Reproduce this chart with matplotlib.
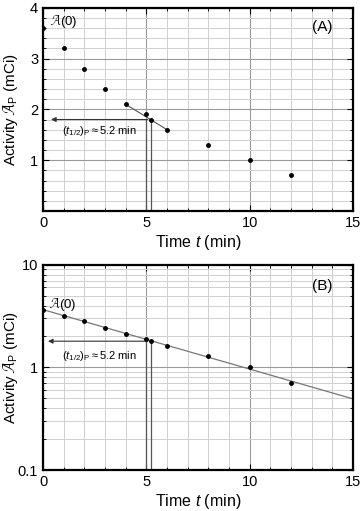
import numpy as np
import matplotlib.pyplot as plt
from matplotlib.ticker import MultipleLocator, LogLocator, NullFormatter, FixedLocator

plt.rcParams['font.family'] = ['Liberation Sans', 'DejaVu Sans']
plt.rcParams['mathtext.fontset'] = 'custom'
plt.rcParams['mathtext.rm'] = 'Liberation Sans'
plt.rcParams['mathtext.it'] = 'Liberation Sans:italic'

# measured activity
t_min = [0, 1, 2, 3, 4, 5, 6, 8, 10, 12]
activity = [3.6, 3.2, 2.8, 2.4, 2.1, 1.9, 1.6, 1.3, 1.0, 0.7]

# fit / half-life construction
A0 = 3.65
t_half = 5.2
A_half = 1.8
tangent_t = [4, 6]
tangent_A = [2.1, 1.6]

fig = plt.figure(figsize=(3.62, 5.11), dpi=100)
axA = fig.add_axes([0.119, 0.587, 0.856, 0.398])
axB = fig.add_axes([0.119, 0.080, 0.856, 0.402])


def style(ax):
    ax.set_xlim(0, 15)
    ax.xaxis.set_major_locator(MultipleLocator(5))
    ax.xaxis.set_minor_locator(MultipleLocator(1))
    ax.grid(which='major', color='#9a9a9a', lw=0.8)
    ax.grid(which='minor', color='#d0d0d0', lw=0.7)
    ax.set_axisbelow(True)
    ax.tick_params(which='both', direction='in', top=True, right=True, labelsize=10.5)
    ax.tick_params(which='major', length=4)
    ax.tick_params(which='minor', length=2.5)
    for s in ax.spines.values():
        s.set_linewidth(1.6)
    ax.set_xlabel('Time $t$ (min)', fontsize=11.5, labelpad=2)
    ax.set_ylabel(r'Activity $\mathcal{A}_\mathrm{P}$ (mCi)', fontsize=11)
    ax.yaxis.set_label_coords(-0.075, 0.5)


# ---- (A) linear
style(axA)
axA.set_ylim(0, 4)
axA.yaxis.set_major_locator(FixedLocator([1, 2, 3, 4]))
axA.yaxis.set_minor_locator(MultipleLocator(0.2))
axA.plot(t_min, activity, 'o', color='k', ms=2.5, zorder=5)
axA.plot(tangent_t, tangent_A, color='#555555', lw=0.8)
axA.plot([t_half], [A_half], 'o', color='k', ms=2.5, zorder=5)
axA.plot([5, 5], [0, A_half], color='#555555', lw=0.9)
axA.plot([t_half, t_half], [0, A_half], color='#555555', lw=0.9)
axA.annotate('', xy=(0.25, A_half), xytext=(t_half, A_half),
             arrowprops=dict(arrowstyle='-|>', color='#333333', lw=0.8, mutation_scale=7))
axA.text(0.9, 1.58, r'$(t_{1/2})_\mathrm{P}\approx 5.2$ min', fontsize=8, va='center')
axA.text(0.35, 3.72, r'$\mathcal{A}$(0)', fontsize=9.5, va='center')
axA.text(14, 3.62, '(A)', fontsize=11, ha='right', va='center')

# ---- (B) semi-log
style(axB)
axB.set_yscale('log')
axB.set_ylim(0.1, 10)
axB.yaxis.set_major_locator(FixedLocator([0.1, 1, 10]))
axB.yaxis.set_major_formatter(plt.FuncFormatter(lambda v, p: f'{v:g}'))
axB.yaxis.set_minor_locator(LogLocator(base=10, subs=np.arange(2, 10)))
axB.yaxis.set_minor_formatter(NullFormatter())
tf = np.array([0, 15])
axB.plot(tf, A0 * 0.5 ** (tf / t_half), color='#777777', lw=0.9)
axB.plot(t_min, activity, 'o', color='k', ms=2.5, zorder=5)
axB.plot([t_half], [A_half], 'o', color='k', ms=2.5, zorder=5)
axB.plot([5, 5], [0.1, A_half], color='#555555', lw=0.9)
axB.plot([t_half, t_half], [0.1, A_half], color='#555555', lw=0.9)
axB.annotate('', xy=(0.1, A_half), xytext=(t_half, A_half),
             arrowprops=dict(arrowstyle='-|>', color='#333333', lw=0.8, mutation_scale=7))
axB.text(0.9, 1.3, r'$(t_{1/2})_\mathrm{P}\approx 5.2$ min', fontsize=8, va='center')
axB.text(0.3, 4.1, r'$\mathcal{A}$(0)', fontsize=9.5, va='center')
axB.text(14, 6.2, '(B)', fontsize=11, ha='right', va='center')

fig.savefig('out.png', dpi=100)
